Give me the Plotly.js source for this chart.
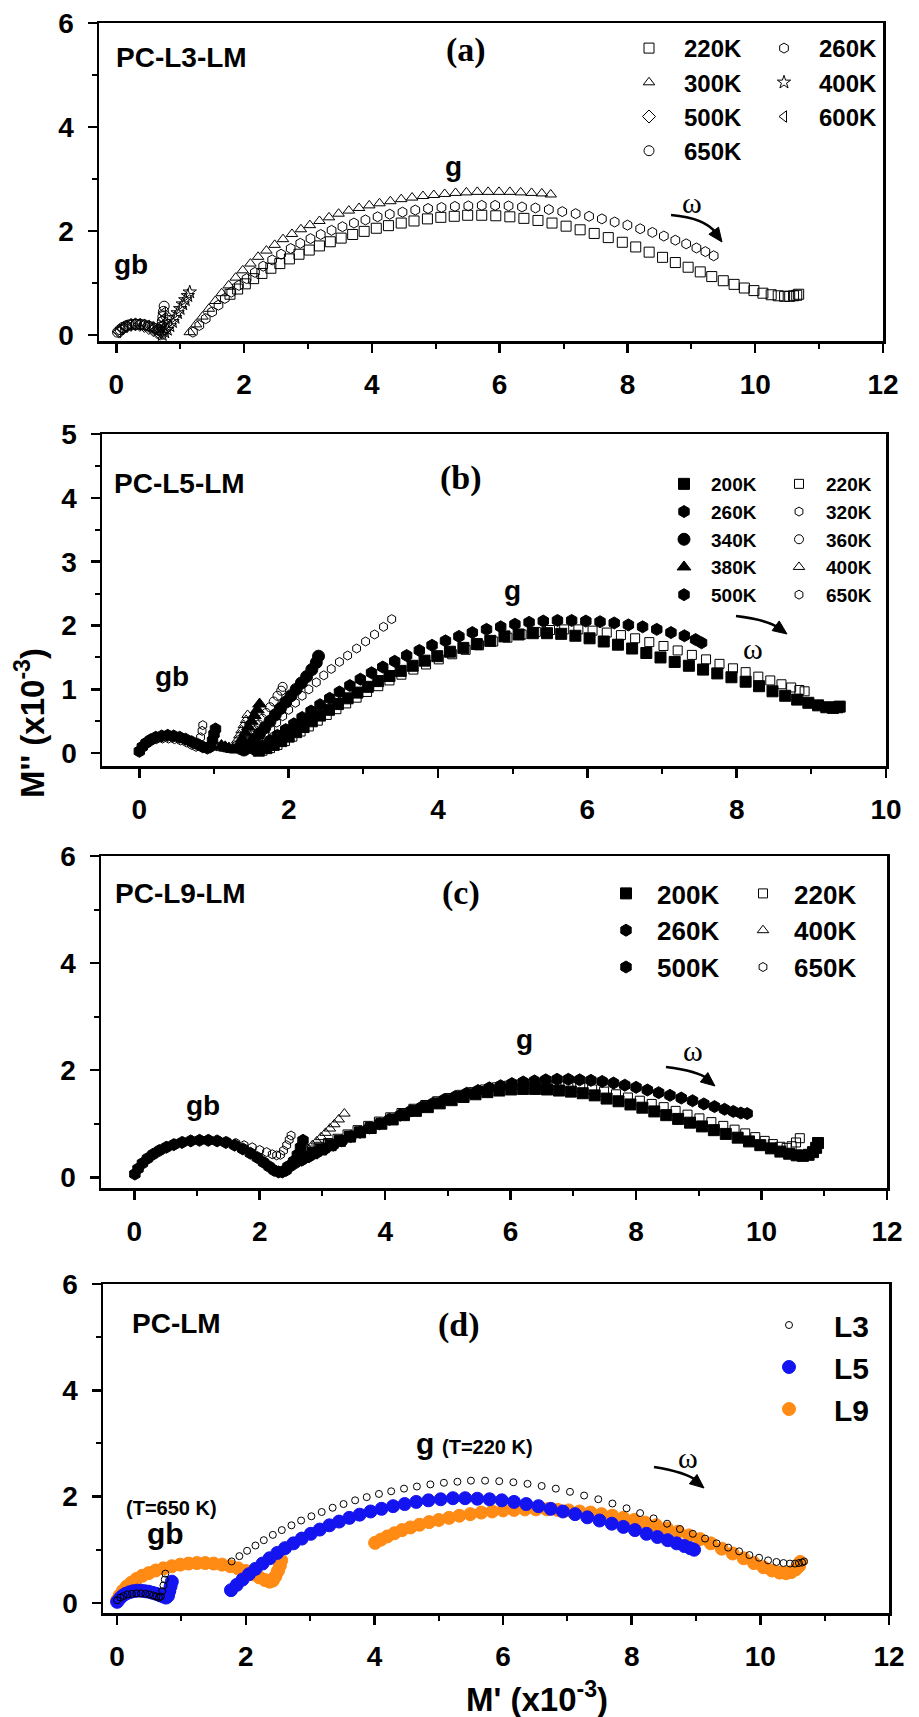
<!DOCTYPE html>
<html><head><meta charset="utf-8">
<script src="https://cdn.plot.ly/plotly-3.0.1.min.js"></script>
<style>html,body{margin:0;padding:0;background:#fff}</style>
</head><body><div id="chart" style="width:919px;height:1717px"></div>
<script>
// ---------- Panel (a) PC-L3-LM ----------
const a_220K_x = [1.78,1.9,2.02,2.15,2.28,2.42,2.56,2.71,2.86,3.02,3.18,3.35,3.52,3.7,3.88,4.07,4.26,4.46,4.66,4.87,5.08,5.29,5.5,5.72,5.94,6.16,6.38,6.6,6.82,7.04,7.26,7.48,7.7,7.92,8.13,8.34,8.55,8.75,8.95,9.14,9.32,9.5,9.67,9.83,9.98,10.12,10.25,10.36,10.46,10.54,10.6,10.65,10.68];
const a_220K_y = [0.78,0.88,0.98,1.08,1.18,1.28,1.37,1.46,1.55,1.63,1.71,1.79,1.86,1.93,1.99,2.05,2.1,2.15,2.19,2.23,2.26,2.28,2.3,2.3,2.29,2.27,2.24,2.2,2.15,2.09,2.02,1.95,1.87,1.78,1.69,1.59,1.49,1.39,1.3,1.21,1.12,1.04,0.97,0.9,0.85,0.8,0.77,0.75,0.74,0.74,0.75,0.76,0.78];
const a_260K_x = [1.2,1.3,1.4,1.5,1.6,1.7,1.8,1.92,2.04,2.17,2.3,2.44,2.58,2.73,2.88,3.04,3.2,3.37,3.54,3.72,3.9,4.09,4.28,4.48,4.68,4.88,5.09,5.3,5.51,5.72,5.93,6.14,6.35,6.56,6.77,6.98,7.19,7.4,7.6,7.8,8.0,8.2,8.39,8.57,8.75,8.92,9.08,9.22,9.35];
const a_260K_y = [0.05,0.18,0.31,0.44,0.57,0.7,0.82,0.95,1.08,1.2,1.32,1.44,1.55,1.66,1.76,1.85,1.93,2.01,2.08,2.15,2.21,2.27,2.32,2.36,2.4,2.43,2.45,2.47,2.48,2.49,2.49,2.48,2.46,2.44,2.41,2.37,2.33,2.28,2.23,2.17,2.11,2.04,1.97,1.9,1.82,1.75,1.67,1.6,1.52];
const a_300K_x = [1.15,1.25,1.35,1.45,1.55,1.65,1.76,1.87,1.98,2.1,2.22,2.35,2.48,2.61,2.75,2.89,3.03,3.18,3.33,3.48,3.64,3.8,3.96,4.12,4.29,4.46,4.63,4.8,4.97,5.14,5.31,5.48,5.65,5.82,5.99,6.16,6.33,6.5,6.66,6.8];
const a_300K_y = [0.05,0.2,0.35,0.5,0.65,0.8,0.95,1.1,1.24,1.37,1.5,1.62,1.73,1.84,1.94,2.03,2.11,2.19,2.26,2.33,2.39,2.44,2.49,2.53,2.57,2.61,2.64,2.67,2.69,2.71,2.73,2.74,2.75,2.75,2.75,2.75,2.74,2.73,2.72,2.7];
const a_400K_x = [0.72,0.76,0.8,0.84,0.88,0.92,0.96,1.0,1.04,1.08,1.12,1.15];
const a_400K_y = [0.0,0.05,0.1,0.17,0.25,0.33,0.42,0.5,0.59,0.67,0.75,0.82];
const a_500K_x = [0.05,0.1,0.16,0.23,0.3,0.37,0.44,0.51,0.58,0.64,0.69,0.73,0.76,0.78,0.8];
const a_500K_y = [0.06,0.12,0.16,0.19,0.2,0.19,0.17,0.13,0.09,0.05,0.02,0.03,0.12,0.22,0.33];
const a_600K_x = [0.03,0.08,0.14,0.2,0.27,0.34,0.41,0.48,0.55,0.61,0.66,0.69,0.71,0.72,0.73];
const a_600K_y = [0.06,0.12,0.16,0.19,0.2,0.2,0.19,0.17,0.14,0.1,0.06,0.08,0.18,0.3,0.42];
const a_650K_x = [0.02,0.06,0.1,0.15,0.2,0.26,0.32,0.38,0.44,0.5,0.56,0.61,0.65,0.68,0.7,0.72,0.73,0.74,0.75];
const a_650K_y = [0.05,0.1,0.14,0.17,0.19,0.2,0.2,0.2,0.19,0.17,0.15,0.12,0.1,0.1,0.15,0.25,0.35,0.45,0.55];

// ---------- Panel (b) PC-L5-LM ----------
const b_200K_x = [1.6,1.7,1.8,1.9,2.0,2.1,2.2,2.31,2.42,2.54,2.66,2.79,2.92,3.06,3.2,3.35,3.5,3.66,3.82,3.99,4.16,4.34,4.52,4.7,4.89,5.08,5.27,5.46,5.65,5.84,6.03,6.22,6.41,6.6,6.79,6.98,7.17,7.36,7.55,7.74,7.93,8.12,8.3,8.48,8.65,8.81,8.96,9.09,9.2,9.29,9.35,9.38];
const b_200K_y = [0.04,0.08,0.13,0.19,0.26,0.33,0.41,0.5,0.59,0.68,0.77,0.86,0.95,1.04,1.13,1.21,1.29,1.37,1.45,1.52,1.59,1.65,1.71,1.76,1.83,1.86,1.88,1.88,1.87,1.84,1.8,1.75,1.7,1.64,1.57,1.5,1.43,1.37,1.31,1.25,1.19,1.12,1.05,0.97,0.9,0.84,0.79,0.75,0.72,0.71,0.72,0.73];
const b_220K_x = [1.65,1.75,1.85,1.95,2.05,2.16,2.27,2.39,2.51,2.64,2.77,2.91,3.05,3.2,3.35,3.51,3.67,3.84,4.01,4.19,4.37,4.55,4.74,4.93,5.12,5.31,5.5,5.69,5.88,6.07,6.26,6.45,6.64,6.83,7.02,7.21,7.4,7.59,7.77,7.95,8.12,8.29,8.45,8.6,8.73,8.84,8.91];
const b_220K_y = [0.04,0.08,0.13,0.19,0.26,0.34,0.42,0.51,0.6,0.69,0.78,0.87,0.96,1.05,1.14,1.23,1.31,1.39,1.47,1.55,1.62,1.69,1.75,1.81,1.86,1.9,1.93,1.94,1.94,1.92,1.89,1.85,1.8,1.74,1.68,1.61,1.54,1.47,1.4,1.33,1.27,1.2,1.14,1.08,1.03,0.99,0.97];
const b_260K_x = [1.55,1.65,1.75,1.85,1.96,2.07,2.18,2.3,2.42,2.55,2.68,2.82,2.96,3.11,3.26,3.42,3.58,3.75,3.92,4.1,4.28,4.46,4.65,4.84,5.03,5.22,5.41,5.6,5.79,5.98,6.17,6.36,6.55,6.74,6.93,7.12,7.3,7.45,7.53];
const b_260K_y = [0.05,0.12,0.2,0.28,0.37,0.46,0.56,0.66,0.76,0.86,0.96,1.06,1.16,1.26,1.35,1.44,1.53,1.61,1.69,1.76,1.83,1.89,1.94,1.98,2.02,2.05,2.07,2.08,2.08,2.07,2.06,2.04,2.01,1.98,1.94,1.89,1.84,1.78,1.73];
const b_320K_x = [1.45,1.52,1.6,1.68,1.76,1.84,1.92,2.0,2.09,2.18,2.27,2.37,2.47,2.57,2.68,2.79,2.91,3.03,3.15,3.27,3.38];
const b_320K_y = [0.05,0.12,0.2,0.29,0.38,0.48,0.58,0.68,0.79,0.9,1.0,1.11,1.22,1.32,1.43,1.53,1.64,1.75,1.86,1.98,2.1];
const b_340K_x = [1.4,1.47,1.54,1.61,1.68,1.75,1.82,1.89,1.96,2.03,2.1,2.17,2.24,2.31,2.37,2.4];
const b_340K_y = [0.05,0.13,0.22,0.31,0.4,0.5,0.6,0.7,0.8,0.9,1.0,1.1,1.2,1.31,1.42,1.52];
const b_360K_x = [1.35,1.4,1.45,1.5,1.55,1.6,1.65,1.7,1.75,1.8,1.85,1.9,1.92];
const b_360K_y = [0.05,0.12,0.2,0.28,0.36,0.45,0.54,0.63,0.72,0.81,0.9,0.98,1.04];
const b_380K_x = [1.1,1.15,1.2,1.25,1.3,1.34,1.38,1.42,1.46,1.5,1.54,1.58,1.61];
const b_380K_y = [0.12,0.1,0.08,0.06,0.05,0.14,0.23,0.32,0.41,0.5,0.59,0.68,0.77];
const b_400K_x = [1.05,1.1,1.15,1.2,1.25,1.28,1.31,1.34,1.37,1.4,1.43,1.45];
const b_400K_y = [0.1,0.08,0.07,0.06,0.05,0.12,0.2,0.28,0.36,0.44,0.52,0.6];
const b_500K_x = [0.0,0.04,0.09,0.15,0.22,0.3,0.38,0.46,0.54,0.62,0.7,0.78,0.85,0.91,0.95,0.98,1.0,1.02];
const b_500K_y = [0.03,0.1,0.16,0.21,0.25,0.27,0.28,0.27,0.25,0.22,0.18,0.14,0.1,0.08,0.1,0.2,0.3,0.38];
const b_650K_x = [0.01,0.05,0.1,0.16,0.23,0.31,0.39,0.47,0.55,0.63,0.7,0.76,0.8,0.82,0.84,0.85];
const b_650K_y = [0.04,0.1,0.15,0.19,0.22,0.23,0.23,0.22,0.2,0.17,0.13,0.1,0.15,0.25,0.35,0.44];

// ---------- Panel (c) PC-L9-LM ----------
const c_200K_x = [2.7,2.84,2.98,3.13,3.28,3.44,3.6,3.77,3.94,4.12,4.3,4.49,4.68,4.87,5.06,5.25,5.44,5.63,5.82,6.01,6.2,6.39,6.58,6.77,6.96,7.15,7.34,7.53,7.72,7.91,8.1,8.29,8.48,8.67,8.86,9.05,9.24,9.43,9.62,9.8,9.98,10.15,10.3,10.44,10.56,10.66,10.75,10.82,10.87,10.9];
const c_200K_y = [0.38,0.45,0.52,0.6,0.68,0.76,0.84,0.92,1.0,1.08,1.16,1.24,1.31,1.38,1.44,1.5,1.55,1.59,1.62,1.64,1.65,1.65,1.64,1.62,1.6,1.57,1.53,1.47,1.42,1.36,1.3,1.23,1.16,1.09,1.02,0.95,0.88,0.81,0.74,0.67,0.6,0.54,0.48,0.44,0.41,0.4,0.42,0.47,0.55,0.64];
const c_220K_x = [2.8,2.94,3.09,3.24,3.4,3.56,3.73,3.9,4.08,4.26,4.45,4.64,4.83,5.02,5.21,5.4,5.59,5.78,5.97,6.16,6.35,6.54,6.73,6.92,7.11,7.3,7.49,7.68,7.87,8.06,8.25,8.44,8.63,8.82,9.01,9.2,9.39,9.57,9.74,9.9,10.05,10.18,10.3,10.4,10.48,10.55,10.61];
const c_220K_y = [0.5,0.57,0.64,0.72,0.8,0.88,0.96,1.04,1.12,1.2,1.28,1.35,1.42,1.48,1.54,1.59,1.64,1.68,1.71,1.73,1.74,1.74,1.73,1.71,1.68,1.64,1.6,1.55,1.49,1.43,1.37,1.31,1.24,1.17,1.1,1.03,0.96,0.89,0.82,0.75,0.68,0.62,0.57,0.55,0.58,0.65,0.73];
const c_260K_x = [0.01,0.06,0.13,0.21,0.3,0.4,0.51,0.63,0.76,0.9,1.04,1.18,1.32,1.46,1.6,1.73,1.85,1.96,2.06,2.15,2.23,2.3,2.36,2.42,2.48,2.54,2.6,2.65,2.69];
const c_260K_y = [0.06,0.16,0.26,0.35,0.43,0.5,0.56,0.61,0.65,0.68,0.69,0.69,0.68,0.65,0.6,0.53,0.45,0.37,0.28,0.2,0.13,0.1,0.1,0.13,0.2,0.3,0.42,0.56,0.69];
const c_400K_x = [2.35,2.42,2.49,2.56,2.63,2.7,2.77,2.84,2.91,2.98,3.05,3.12,3.19,3.26,3.35];
const c_400K_y = [0.12,0.18,0.25,0.32,0.39,0.46,0.53,0.6,0.67,0.75,0.83,0.91,0.99,1.08,1.19];
const c_500K_x = [2.45,2.56,2.67,2.79,2.91,3.04,3.17,3.31,3.45,3.6,3.75,3.91,4.07,4.24,4.41,4.58,4.76,4.94,5.12,5.3,5.48,5.66,5.84,6.02,6.2,6.38,6.56,6.74,6.92,7.1,7.28,7.46,7.64,7.82,8.0,8.18,8.36,8.54,8.72,8.9,9.08,9.25,9.41,9.55,9.67,9.77];
const c_500K_y = [0.2,0.26,0.32,0.39,0.46,0.53,0.6,0.68,0.76,0.84,0.92,1.0,1.08,1.16,1.24,1.31,1.38,1.45,1.51,1.57,1.62,1.67,1.71,1.75,1.78,1.8,1.82,1.83,1.83,1.82,1.81,1.79,1.76,1.72,1.68,1.63,1.58,1.53,1.48,1.43,1.37,1.32,1.27,1.23,1.2,1.19];
const c_650K_x = [0.02,0.08,0.15,0.23,0.32,0.42,0.53,0.65,0.78,0.92,1.06,1.2,1.34,1.48,1.62,1.75,1.88,2.0,2.11,2.2,2.27,2.33,2.38,2.43,2.47,2.5];
const c_650K_y = [0.07,0.18,0.28,0.37,0.45,0.52,0.58,0.63,0.67,0.69,0.7,0.7,0.69,0.67,0.64,0.6,0.56,0.51,0.47,0.43,0.41,0.42,0.5,0.6,0.7,0.78];

// ---------- Panel (d) PC-LM ----------
const d_L3_gb_x = [0.0,0.05,0.1,0.16,0.23,0.3,0.37,0.44,0.5,0.56,0.61,0.65,0.68,0.7,0.72,0.74,0.75];
const d_L3_gb_y = [0.05,0.1,0.13,0.16,0.17,0.18,0.18,0.17,0.16,0.14,0.12,0.1,0.12,0.22,0.33,0.44,0.55];
const d_L5_gb_x = [0.0,0.04,0.08,0.13,0.19,0.25,0.31,0.37,0.43,0.49,0.55,0.61,0.67,0.72,0.76,0.79,0.81,0.83,0.85];
const d_L5_gb_y = [0.02,0.08,0.13,0.17,0.2,0.22,0.23,0.23,0.22,0.21,0.19,0.17,0.14,0.12,0.1,0.13,0.22,0.31,0.4];
const d_L5_g_x = [1.77,1.86,1.95,2.05,2.15,2.26,2.37,2.49,2.61,2.74,2.87,3.01,3.15,3.3,3.45,3.61,3.77,3.94,4.11,4.29,4.47,4.65,4.84,5.03,5.22,5.41,5.6,5.79,5.98,6.17,6.36,6.55,6.74,6.93,7.12,7.31,7.5,7.69,7.87,8.05,8.23,8.4,8.56,8.7,8.82,8.91,8.97];
const d_L5_g_y = [0.24,0.34,0.44,0.54,0.64,0.74,0.84,0.94,1.03,1.12,1.21,1.3,1.38,1.46,1.53,1.6,1.66,1.72,1.77,1.82,1.86,1.9,1.93,1.95,1.97,1.97,1.96,1.95,1.93,1.9,1.86,1.82,1.77,1.72,1.67,1.61,1.55,1.49,1.43,1.37,1.3,1.24,1.18,1.12,1.07,1.03,1.0];
const d_L9_gb_x = [0.0,0.04,0.09,0.15,0.22,0.3,0.39,0.49,0.6,0.72,0.85,0.98,1.11,1.24,1.37,1.5,1.63,1.76,1.88,2.0,2.11,2.21,2.3,2.37,2.42,2.46,2.5,2.53,2.55];
const d_L9_gb_y = [0.05,0.14,0.23,0.31,0.38,0.45,0.51,0.56,0.61,0.65,0.69,0.72,0.74,0.75,0.75,0.74,0.72,0.69,0.65,0.6,0.54,0.48,0.43,0.4,0.42,0.5,0.6,0.7,0.8];
const d_L9_g_x = [4.01,4.1,4.2,4.31,4.43,4.56,4.7,4.85,5.0,5.16,5.32,5.49,5.66,5.83,6.0,6.17,6.34,6.51,6.68,6.85,7.02,7.19,7.36,7.53,7.7,7.87,8.04,8.21,8.38,8.55,8.72,8.89,9.06,9.23,9.4,9.57,9.74,9.9,10.05,10.18,10.3,10.4,10.48,10.55,10.6,10.62];
const d_L9_g_y = [1.13,1.19,1.25,1.31,1.37,1.42,1.47,1.52,1.56,1.6,1.64,1.67,1.7,1.72,1.74,1.75,1.76,1.76,1.76,1.75,1.74,1.72,1.7,1.67,1.64,1.6,1.56,1.51,1.46,1.4,1.34,1.27,1.2,1.12,1.02,0.93,0.84,0.75,0.67,0.61,0.57,0.56,0.58,0.63,0.69,0.77];

// ---------- helpers (styling only) ----------
const SANS = 'Liberation Sans, Arial, Helvetica, sans-serif';
const SERIF = 'Liberation Serif, Times New Roman, serif';
const W = 919, H = 1717;
const px = v => v / W, py = v => 1 - v / H;

function mk(x, y, name, symbol, size, color, xa, ya, legend) {
  return {type: 'scatter', mode: 'markers', x: x, y: y, name: name, xaxis: xa, yaxis: ya, legend: legend,
    marker: {symbol: symbol, size: size, color: color, line: {width: 1, color: color}}, hoverinfo: 'skip'};
}

const K = '#000';
const data = [
  mk(a_220K_x, a_220K_y, '220K', 'square-open', 10, K, 'x', 'y', 'legend'),
  mk(a_260K_x, a_260K_y, '260K', 'hexagon-open', 10, K, 'x', 'y', 'legend2'),
  mk(a_300K_x, a_300K_y, '300K', 'triangle-up-open', 10, K, 'x', 'y', 'legend'),
  mk(a_400K_x, a_400K_y, '400K', 'star-open', 10, K, 'x', 'y', 'legend2'),
  mk(a_500K_x, a_500K_y, '500K', 'diamond-open', 10, K, 'x', 'y', 'legend'),
  mk(a_600K_x, a_600K_y, '600K', 'triangle-left-open', 10, K, 'x', 'y', 'legend2'),
  mk(a_650K_x, a_650K_y, '650K', 'circle-open', 10, K, 'x', 'y', 'legend'),

  mk(b_200K_x, b_200K_y, '200K', 'square', 11, K, 'x2', 'y2', 'legend3'),
  mk(b_220K_x, b_220K_y, '220K', 'square-open', 9, K, 'x2', 'y2', 'legend4'),
  mk(b_260K_x, b_260K_y, '260K', 'hexagon', 12, K, 'x2', 'y2', 'legend3'),
  mk(b_320K_x, b_320K_y, '320K', 'hexagon-open', 9, K, 'x2', 'y2', 'legend4'),
  mk(b_340K_x, b_340K_y, '340K', 'circle', 12, K, 'x2', 'y2', 'legend3'),
  mk(b_360K_x, b_360K_y, '360K', 'circle-open', 9, K, 'x2', 'y2', 'legend4'),
  mk(b_380K_x, b_380K_y, '380K', 'triangle-up', 12, K, 'x2', 'y2', 'legend3'),
  mk(b_400K_x, b_400K_y, '400K', 'triangle-up-open', 10, K, 'x2', 'y2', 'legend4'),
  mk(b_500K_x, b_500K_y, '500K', 'hexagon', 12, K, 'x2', 'y2', 'legend3'),
  mk(b_650K_x, b_650K_y, '650K', 'hexagon-open', 9, K, 'x2', 'y2', 'legend4'),

  mk(c_200K_x, c_200K_y, '200K', 'square', 11, K, 'x3', 'y3', 'legend5'),
  mk(c_220K_x, c_220K_y, '220K', 'square-open', 9, K, 'x3', 'y3', 'legend6'),
  mk(c_260K_x, c_260K_y, '260K', 'hexagon', 12, K, 'x3', 'y3', 'legend5'),
  mk(c_400K_x, c_400K_y, '400K', 'triangle-up-open', 10, K, 'x3', 'y3', 'legend6'),
  mk(c_500K_x, c_500K_y, '500K', 'hexagon', 12, K, 'x3', 'y3', 'legend5'),
  mk(c_650K_x, c_650K_y, '650K', 'hexagon-open', 9, K, 'x3', 'y3', 'legend6'),

  mk(d_L9_gb_x.concat(d_L9_g_x), d_L9_gb_y.concat(d_L9_g_y), 'L9', 'circle', 13, '#ff8a14', 'x4', 'y4', 'legend7'),
  mk(d_L5_gb_x.concat(d_L5_g_x), d_L5_gb_y.concat(d_L5_g_y), 'L5', 'circle', 13, '#1414f0', 'x4', 'y4', 'legend7'),
  mk(d_L3_gb_x.concat(a_220K_x), d_L3_gb_y.concat(a_220K_y), 'L3', 'circle-open', 7, K, 'x4', 'y4', 'legend7')
];
data.forEach((t, i) => { t.legendgroup = 'g' + i; });

function axis(domain, range, dtick, minor, anchor) {
  return {domain: domain, range: range, anchor: anchor, dtick: dtick, tick0: 0,
    showline: true, linewidth: 2.5, linecolor: K, mirror: true,
    ticks: 'outside', ticklen: 9, tickwidth: 2.5, tickcolor: K, ticklabelstandoff: 8,
    showgrid: false, zeroline: false, fixedrange: true,
    tickfont: {family: SANS, size: 28, color: K, weight: 700},
    minor: {dtick: minor, tick0: 0, ticks: 'outside', ticklen: 5, tickwidth: 2, tickcolor: K, showgrid: false}};
}

function lg(x, y, size, iw, gap, order) {
  return {x: x, y: y, xanchor: 'left', yanchor: 'top', xref: 'paper', yref: 'paper',
    bgcolor: 'rgba(0,0,0,0)', borderwidth: 0, itemwidth: iw, tracegroupgap: gap,
    traceorder: order || 'normal', itemclick: false, itemdoubleclick: false,
    font: {family: SANS, size: size, color: K, weight: 700}};
}

function txt(x, y, text, size, family, weight) {
  return {xref: 'paper', yref: 'paper', x: px(x), y: py(y), text: text, showarrow: false,
    xanchor: 'center', yanchor: 'middle',
    font: {family: family || SANS, size: size, color: K, weight: weight === undefined ? 700 : weight}};
}

// curved arrow: quadratic path plus a filled triangular head (pixel positions -> paper)
function arrow(x0, y0, cx, cy, x1, y1, tx, ty) {
  const dx = x1 - cx, dy = y1 - cy, n = Math.hypot(dx, dy), ux = dx / n, uy = dy / n;
  const L = 14, hw = 6, bx = tx - ux * L, by = ty - uy * L;
  const p1x = bx - uy * hw, p1y = by + ux * hw, p2x = bx + uy * hw, p2y = by - ux * hw;
  return [
    {type: 'path', xref: 'paper', yref: 'paper',
      path: 'M ' + px(x0) + ',' + py(y0) + ' Q ' + px(cx) + ',' + py(cy) + ' ' + px(x1) + ',' + py(y1),
      line: {color: K, width: 2.6}},
    {type: 'path', xref: 'paper', yref: 'paper', fillcolor: K, line: {color: K, width: 1},
      path: 'M ' + px(tx) + ',' + py(ty) + ' L ' + px(p1x) + ',' + py(p1y) + ' L ' + px(p2x) + ',' + py(p2y) + ' Z'}
  ];
}

const layout = {
  width: W, height: H, margin: {l: 0, r: 0, t: 0, b: 0},
  paper_bgcolor: '#fff', plot_bgcolor: '#fff', showlegend: true,
  xaxis:  axis([99 / W, 883 / W], [-0.27, 12], 2, 1, 'y'),
  yaxis:  axis([1 - 341 / H, 1 - 23 / H], [-0.12, 6], 2, 1, 'x'),
  xaxis2: axis([102 / W, 886 / W], [-0.5, 10], 2, 1, 'y2'),
  yaxis2: axis([1 - 766 / H, 1 - 434 / H], [-0.2, 5], 1, 0.5, 'x2'),
  xaxis3: axis([101 / W, 887 / W], [-0.53, 12], 2, 1, 'y3'),
  yaxis3: axis([1 - 1188 / H, 1 - 856 / H], [-0.2, 6], 2, 1, 'x3'),
  xaxis4: axis([103 / W, 889 / W], [-0.22, 12], 2, 1, 'y4'),
  yaxis4: axis([1 - 1613 / H, 1 - 1284 / H], [-0.19, 6], 2, 1, 'x4'),
  legend:  lg(px(614), py(26), 24, 60, 0),
  legend2: lg(px(749), py(26), 24, 60, 0),
  legend3: lg(px(657), py(465), 19, 44, 0),
  legend4: lg(px(772), py(465), 19, 44, 0),
  legend5: lg(px(595), py(870), 26, 52, 0),
  legend6: lg(px(732), py(870), 26, 52, 0),
  legend7: lg(px(744), py(1299), 30, 80, 9, 'reversed'),
  annotations: [
    txt(181, 57, 'PC-L3-LM', 28), txt(466, 50, '(a)', 34, SERIF), txt(453, 166, 'g', 28), txt(131, 265, 'gb', 28), txt(692, 203, 'ω', 30, SERIF, 400),
    txt(179, 483, 'PC-L5-LM', 28), txt(461, 478, '(b)', 34, SERIF), txt(512, 591, 'g', 28), txt(172, 676, 'gb', 28), txt(753, 648, 'ω', 30, SERIF, 400),
    txt(180, 893, 'PC-L9-LM', 28), txt(461, 893, '(c)', 34, SERIF), txt(524, 1039, 'g', 28), txt(203, 1105, 'gb', 28), txt(693, 1050, 'ω', 30, SERIF, 400),
    txt(176, 1323, 'PC-LM', 28), txt(459, 1325, '(d)', 34, SERIF), txt(425, 1443, 'g', 30), txt(488, 1447, '(T=220 K)', 20),
    txt(171, 1508, '(T=650 K)', 20), txt(165, 1533, 'gb', 30), txt(688, 1457, 'ω', 30, SERIF, 400),
    Object.assign(txt(30, 723, "M'' (x10<sup>-3</sup>)", 33), {textangle: -90}),
    txt(537, 1697, "M' (x10<sup>-3</sup>)", 33)
  ],
  shapes: [].concat(
    arrow(671, 215, 705, 218, 716, 233, 722, 242),
    arrow(736, 616, 768, 620, 779, 628, 787, 634),
    arrow(666, 1067, 698, 1071, 708, 1079, 715, 1086),
    arrow(654, 1467, 686, 1472, 697, 1481, 704, 1488)
  )
};

Plotly.newPlot('chart', data, layout, {displayModeBar: false, staticPlot: true});
</script></body></html>
